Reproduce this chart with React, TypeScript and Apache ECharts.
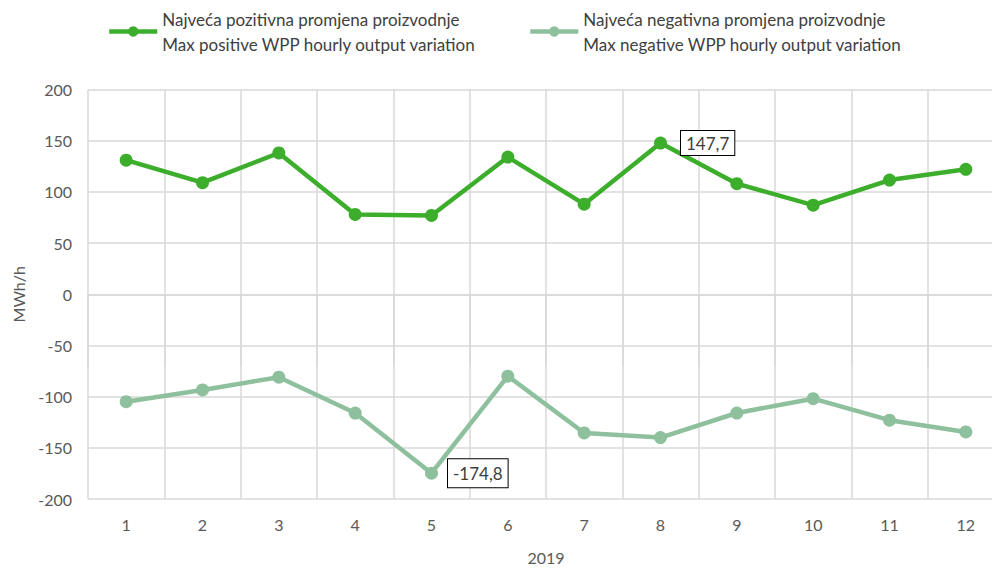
import React, { useEffect, useRef } from "react";
import * as echarts from "echarts";

const months = ["1", "2", "3", "4", "5", "6", "7", "8", "9", "10", "11", "12"];
const maxPositive = [131, 109, 138, 78, 77, 134, 88, 147.7, 108, 87, 111.5, 122];
const maxNegative = [-105, -93.5, -81, -116, -174.8, -80, -135.5, -140, -116, -102, -123, -134.5];
const posName = "Najveća pozitivna promjena proizvodnje\nMax positive WPP hourly output variation";
const negName = "Najveća negativna promjena proizvodnje\nMax negative WPP hourly output variation";
const labelledPos = 7;
const labelledNeg = 4;

const POS_COLOR = "#3DAE2C";
const NEG_COLOR = "#8EC09E";
const FONT = "Lato, 'Open Sans', sans-serif";
const TXT = "#595959";
const GRID = "#D9D9D9";

const fmt = (v: number) => String(v).replace(".", ",");

const calloutLabel = (distance: number, pad: number[]) => ({
  show: true,
  position: "right" as const,
  distance,
  formatter: (p: any) => fmt(p.value),
  backgroundColor: "#ffffff",
  borderColor: "#000000",
  borderWidth: 1,
  padding: pad,
  color: "#404040",
  fontSize: 17,
  fontFamily: FONT,
});

export default function App() {
  const ref = useRef<HTMLDivElement>(null);
  useEffect(() => {
    if (!ref.current) return;
    const chart = echarts.init(ref.current, undefined, { renderer: "svg" });
    const legendText = {
      color: "#404040",
      fontSize: 17,
      fontFamily: FONT,
      lineHeight: 25,
      padding: [25, 0, 0, 0],
    };
    const legendBase = {
      top: -6,
      padding: 0,
      itemWidth: 48,
      itemHeight: 13,
      itemGap: 4,
      textStyle: legendText,
      lineStyle: { width: 4.5 },
    };
    chart.setOption({
      animation: false,
      backgroundColor: "#ffffff",
      textStyle: { fontFamily: FONT },
      legend: [
        { ...legendBase, data: [posName], left: 107 },
        { ...legendBase, data: [negName], left: 528 },
      ],
      grid: {
        left: 88,
        top: 89.5,
        right: -12,
        bottom: 69,
        containLabel: false,
        outerBoundsMode: "none",
      },
      xAxis: {
        type: "category",
        data: months,
        boundaryGap: true,
        name: "2019",
        nameLocation: "middle",
        nameGap: 50,
        nameTextStyle: { color: TXT, fontSize: 16, fontFamily: FONT },
        axisLine: { show: true, lineStyle: { color: GRID, width: 1.5 } },
        axisTick: { show: true, length: 72, lineStyle: { color: GRID, width: 1.5 } },
        axisLabel: { color: TXT, fontSize: 16, fontFamily: FONT, margin: 17 },
        splitLine: { show: true, lineStyle: { color: GRID, width: 1.5 } },
      },
      yAxis: {
        type: "value",
        min: -200,
        max: 200,
        interval: 50,
        name: "MWh/h",
        nameLocation: "middle",
        nameGap: 62,
        nameTextStyle: { color: TXT, fontSize: 16, fontFamily: FONT },
        axisLine: { show: false },
        axisTick: { show: false },
        axisLabel: { color: TXT, fontSize: 16, fontFamily: FONT, margin: 16 },
        splitLine: { show: true, lineStyle: { color: GRID, width: 1.5 } },
      },
      series: [
        {
          name: posName,
          type: "line",
          data: maxPositive.map((v, i) =>
            i === labelledPos ? { value: v, label: calloutLabel(14, [4, 5, 3, 5]) } : v
          ),
          symbol: "circle",
          symbolSize: 13,
          itemStyle: { color: POS_COLOR },
          lineStyle: { color: POS_COLOR, width: 4.5 },
          z: 3,
        },
        {
          name: negName,
          type: "line",
          data: maxNegative.map((v, i) =>
            i === labelledNeg ? { value: v, label: calloutLabel(10, [6, 5, 5, 5]) } : v
          ),
          symbol: "circle",
          symbolSize: 13,
          itemStyle: { color: NEG_COLOR },
          lineStyle: { color: NEG_COLOR, width: 4.5 },
          z: 2,
        },
      ],
    });
    return () => chart.dispose();
  }, []);
  return (
    <div
      ref={ref}
      style={{ position: "fixed", left: 0, top: 0, width: 992, height: 568 }}
    />
  );
}
